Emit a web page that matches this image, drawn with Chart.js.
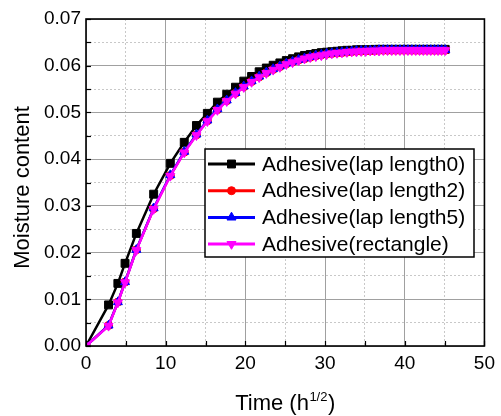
<!DOCTYPE html>
<html>
<head>
<meta charset="utf-8">
<script src="https://cdn.jsdelivr.net/npm/chart.js@4.4.0/dist/chart.umd.min.js"></script>
<style>
html, body { margin: 0; padding: 0; background: #fff; }
</style>
</head>
<body>
<canvas id="myChart" width="501" height="416"></canvas>
<script>
// time axis, in h^(1/2)
const timeRoot = [0, 2.83, 4.00, 4.90, 6.32, 8.49, 10.58, 12.33, 13.86, 15.23,
	16.49, 17.66, 18.76, 19.80, 20.78, 21.73, 22.63, 23.49, 24.33, 25.14,
	25.92, 26.68, 27.42, 28.14, 28.84, 29.53, 30.20, 30.85, 31.50, 32.12,
	32.74, 33.35, 33.94, 34.53, 35.10, 35.67, 36.22, 36.77, 37.31, 37.84,
	38.37, 38.88, 39.40, 39.90, 40.40, 40.89, 41.38, 41.86, 42.33, 42.80,
	43.27, 43.73, 44.18, 44.63, 45.08];

const lapLength0 = [0, 0.0088, 0.0134, 0.0177, 0.0241, 0.0325, 0.0391, 0.0436, 0.0472, 0.0498,
	0.0522, 0.0539, 0.0554, 0.0567, 0.0577, 0.0587, 0.0595, 0.0601, 0.0606, 0.0611,
	0.0615, 0.0619, 0.0622, 0.0624, 0.0626, 0.0628, 0.0629, 0.0630, 0.0631, 0.0632,
	0.0633, 0.0633, 0.0634, 0.0634, 0.0634, 0.0634, 0.0635, 0.0635, 0.0635, 0.0635,
	0.0635, 0.0635, 0.0635, 0.0635, 0.0635, 0.0635, 0.0635, 0.0635, 0.0635, 0.0635,
	0.0635, 0.0635, 0.0635, 0.0635, 0.0635];

const lapLength2 = [0, 0.0044, 0.0094, 0.0137, 0.0206, 0.0294, 0.0365, 0.0415, 0.0452, 0.0482,
	0.0506, 0.0525, 0.0541, 0.0555, 0.0566, 0.0576, 0.0585, 0.0592, 0.0598, 0.0604,
	0.0608, 0.0612, 0.0615, 0.0618, 0.0621, 0.0623, 0.0625, 0.0626, 0.0627, 0.0628,
	0.0629, 0.0630, 0.0631, 0.0631, 0.0632, 0.0632, 0.0632, 0.0633, 0.0633, 0.0633,
	0.0633, 0.0633, 0.0633, 0.0633, 0.0633, 0.0633, 0.0633, 0.0633, 0.0633, 0.0633,
	0.0633, 0.0633, 0.0633, 0.0633, 0.0633];

const lapLength5 = [0, 0.0044, 0.0094, 0.0137, 0.0206, 0.0295, 0.0366, 0.0416, 0.0453, 0.0483,
	0.0507, 0.0526, 0.0542, 0.0556, 0.0567, 0.0577, 0.0586, 0.0593, 0.0599, 0.0605,
	0.0609, 0.0613, 0.0616, 0.0619, 0.0622, 0.0624, 0.0626, 0.0627, 0.0628, 0.0629,
	0.0630, 0.0631, 0.0632, 0.0632, 0.0633, 0.0633, 0.0633, 0.0634, 0.0634, 0.0634,
	0.0634, 0.0634, 0.0634, 0.0634, 0.0634, 0.0634, 0.0634, 0.0634, 0.0634, 0.0634,
	0.0634, 0.0634, 0.0634, 0.0634, 0.0634];

const rectangle = [0, 0.0043, 0.0093, 0.0136, 0.0205, 0.0293, 0.0364, 0.0414, 0.0451, 0.0481,
	0.0505, 0.0524, 0.0540, 0.0554, 0.0565, 0.0575, 0.0584, 0.0591, 0.0597, 0.0603,
	0.0607, 0.0611, 0.0615, 0.0618, 0.0620, 0.0622, 0.0624, 0.0626, 0.0627, 0.0628,
	0.0629, 0.0630, 0.0630, 0.0631, 0.0631, 0.0632, 0.0632, 0.0632, 0.0633, 0.0633,
	0.0633, 0.0633, 0.0633, 0.0633, 0.0633, 0.0633, 0.0633, 0.0633, 0.0633, 0.0633,
	0.0633, 0.0633, 0.0633, 0.0633, 0.0633];

const seriesNames = ['Adhesive(lap length0)', 'Adhesive(lap length2)', 'Adhesive(lap length5)', 'Adhesive(rectangle)'];
const xMin = 0, xMax = 50, xStep = 10, xMinorStep = 5;
const yMin = 0, yMax = 0.07, yStep = 0.01, yMinorStep = 0.005;

const FONT = "'Liberation Sans', Arial, sans-serif";

function toPoints(values) {
	return values.map((v, i) => ({ x: timeRoot[i], y: v }));
}

// order: higher is drawn first, so the last series ends up on top
function makeSet(label, values, color, style, radius, rotation, order) {
	return {
		label: label,
		data: toPoints(values),
		order: order,
		borderColor: color,
		backgroundColor: color,
		borderWidth: 2.5,
		pointStyle: style,
		pointRadius: radius,
		pointRotation: rotation,
		pointBorderWidth: 1,
		pointBorderColor: color,
		pointBackgroundColor: color,
		tension: 0
	};
}

const datasets = [
	makeSet(seriesNames[0], lapLength0, '#000000', 'rect', 5.6, 0, 4),
	makeSet(seriesNames[1], lapLength2, '#ff0000', 'circle', 4, 0, 3),
	makeSet(seriesNames[2], lapLength5, '#0000ff', 'triangle', 5.2, 0, 2),
	makeSet(seriesNames[3], rectangle, '#ff00ff', 'triangle', 5.2, 180, 1)
];

function drawMarker(ctx, ds, x, y) {
	ctx.fillStyle = ds.pointBackgroundColor;
	ctx.strokeStyle = ds.pointBorderColor;
	ctx.lineWidth = 1;
	if (Chart.helpers && Chart.helpers.drawPoint) {
		Chart.helpers.drawPoint(ctx, {
			pointStyle: ds.pointStyle, radius: ds.pointRadius,
			rotation: ds.pointRotation, borderWidth: 1
		}, x, y);
	} else {
		ctx.beginPath();
		ctx.arc(x, y, ds.pointRadius, 0, Math.PI * 2);
		ctx.fill();
	}
}

const decor = {
	id: 'decor',
	afterDatasetsDraw(chart) {
		const ctx = chart.ctx;
		const a = chart.chartArea;
		ctx.save();
		// inward ticks on left and bottom
		ctx.strokeStyle = '#000';
		ctx.lineWidth = 1.2;
		chart.scales.xMinor.ticks.forEach(t => {
			const px = Math.round(chart.scales.x.getPixelForValue(t.value)) + 0.5;
			ctx.beginPath();
			ctx.moveTo(px, a.bottom);
			ctx.lineTo(px, a.bottom - 5);
			ctx.stroke();
		});
		chart.scales.yMinor.ticks.forEach(t => {
			const py = Math.round(chart.scales.y.getPixelForValue(t.value)) + 0.5;
			ctx.beginPath();
			ctx.moveTo(a.left, py);
			ctx.lineTo(a.left + 5, py);
			ctx.stroke();
		});
		// frame
		ctx.lineWidth = 1.6;
		ctx.strokeRect(a.left, a.top, a.right - a.left, a.bottom - a.top);
		ctx.restore();
	},
	afterDraw(chart) {
		const ctx = chart.ctx;
		const a = chart.chartArea;
		ctx.save();
		// legend box
		const lx = a.left + 119, ly = a.top + 130, lw = 269, lh = 108;
		ctx.fillStyle = '#fff';
		ctx.fillRect(lx, ly, lw, lh);
		ctx.strokeStyle = '#000';
		ctx.lineWidth = 1.5;
		ctx.strokeRect(lx, ly, lw, lh);
		ctx.font = '21px ' + FONT;
		ctx.textBaseline = 'middle';
		chart.data.datasets.forEach((ds, i) => {
			const ry = ly + 15 + i * 26.7;
			ctx.strokeStyle = ds.borderColor;
			ctx.lineWidth = 3;
			ctx.beginPath();
			ctx.moveTo(lx + 3, ry);
			ctx.lineTo(lx + 50, ry);
			ctx.stroke();
			drawMarker(ctx, ds, lx + 26.5, ry);
			ctx.fillStyle = '#000';
			ctx.fillText(ds.label, lx + 57, ry + 1);
		});
		// y title
		ctx.fillStyle = '#000';
		ctx.font = '22px ' + FONT;
		ctx.textAlign = 'center';
		ctx.textBaseline = 'middle';
		ctx.save();
		ctx.translate(23, (a.top + a.bottom) / 2 + 5);
		ctx.rotate(-Math.PI / 2);
		ctx.fillText('Moisture content', 0, 0);
		ctx.restore();
		// x title with superscript
		ctx.textAlign = 'left';
		ctx.textBaseline = 'alphabetic';
		const mainFont = '22px ' + FONT, supFont = '13px ' + FONT;
		ctx.font = mainFont;
		const w1 = ctx.measureText('Time (h').width;
		const w3 = ctx.measureText(')').width;
		ctx.font = supFont;
		const w2 = ctx.measureText('1/2').width;
		let x0 = (a.left + a.right) / 2 - (w1 + w2 + w3 + 1) / 2;
		const base = 410;
		ctx.font = mainFont;
		ctx.fillText('Time (h', x0, base);
		ctx.font = supFont;
		ctx.fillText('1/2', x0 + w1 + 0.5, base - 9);
		ctx.font = mainFont;
		ctx.fillText(')', x0 + w1 + w2 + 1, base);
		ctx.restore();
	}
};

const tickFont = { family: FONT, size: 19 };

new Chart(document.getElementById('myChart').getContext('2d'), {
	type: 'line',
	data: { datasets: datasets },
	options: {
		responsive: false,
		animation: false,
		layout: { padding: { left: 0, right: 9, top: 19, bottom: 0 } },
		plugins: { legend: { display: false }, tooltip: { enabled: false } },
		scales: {
			xMinor: {
				type: 'linear', position: 'bottom', min: xMin, max: xMax,
				ticks: { display: false, stepSize: xMinorStep },
				grid: { color: '#c8c8c8', lineWidth: 1, drawTicks: false },
				border: { display: false, dash: [2, 2] },
				afterFit: s => { s.height = 0; }
			},
			yMinor: {
				type: 'linear', position: 'left', min: yMin, max: yMax,
				ticks: { display: false, stepSize: yMinorStep },
				grid: { color: '#c8c8c8', lineWidth: 1, drawTicks: false },
				border: { display: false, dash: [2, 2] },
				afterFit: s => { s.width = 0; }
			},
			x: {
				type: 'linear', position: 'bottom', min: xMin, max: xMax,
				ticks: { stepSize: xStep, color: '#000', font: tickFont, padding: 6, maxRotation: 0 },
				grid: { color: '#a0a0a0', lineWidth: 1, drawTicks: false },
				border: { display: false },
				afterFit: s => { s.height = 70; }
			},
			y: {
				type: 'linear', position: 'left', min: yMin, max: yMax,
				ticks: { stepSize: yStep, color: '#000', font: tickFont, padding: 5,
					callback: v => v.toFixed(2) },
				grid: { color: '#a0a0a0', lineWidth: 1, drawTicks: false },
				border: { display: false },
				afterFit: s => { s.width = 86; }
			}
		}
	},
	plugins: [decor]
});
</script>
</body>
</html>
